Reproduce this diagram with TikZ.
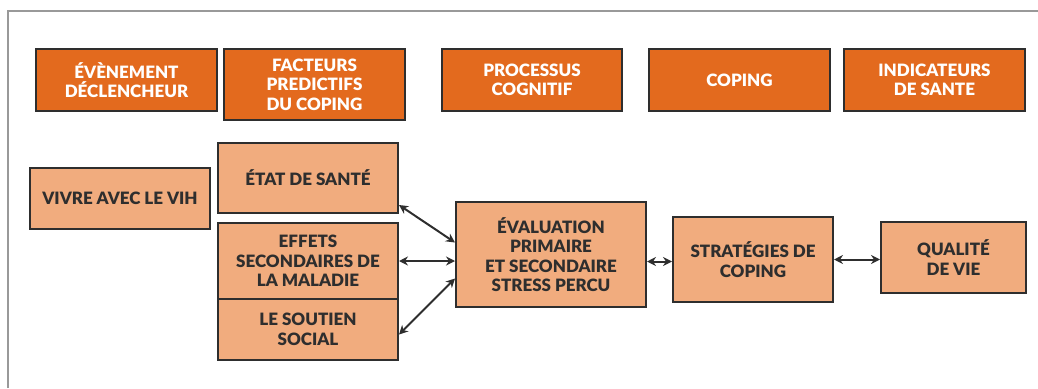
\documentclass[tikz,border=0pt]{standalone}
\usepackage{fontspec}
\setmainfont{Lato}[BoldFont={Lato Black}]
\usepackage{xcolor}
\usepackage{tikz}
\usetikzlibrary{positioning}
\usetikzlibrary{arrows.meta}

\definecolor{entete}{HTML}{E36A1E}
\definecolor{boite}{HTML}{F1AC7E}
\definecolor{trait}{HTML}{2E2E2E}

\begin{document}
\begin{tikzpicture}[x=1pt, y=-1pt,
        font=\bfseries\fontsize{17}{19.5}\selectfont]

                % Styles of the header row and of the boxes below it
                \tikzset{
                    titre/.style={draw=trait, line width=2pt, fill=entete,
                        text=white, align=center, inner sep=0pt,
                        minimum width=181pt, minimum height=62pt},
                    bloc/.style={draw=trait, line width=2pt, fill=boite,
                        text=trait, align=center, inner sep=0pt},
                    lien/.style={draw=trait, line width=2pt,
                        {Stealth[length=9pt,width=9pt]}-{Stealth[length=9pt,width=9pt]}}
                }

                \useasboundingbox (0,0) rectangle (1038,388);

                % Frame around the figure
                \draw[gray!80, line width=1.5pt] (8,388) -- (8,11) -- (1038,11);

                % Header row
                \begin{scope}
                    \node[titre] (H1) at (126.5, 80)
                    {ÉVÈNEMENT\\DÉCLENCHEUR};
                    \node[titre, minimum height=71pt] (H2) at (314.5, 84.5)
                    {FACTEURS\\PREDICTIFS\\DU COPING};
                    \node[titre, minimum width=180pt] (H3) at (532, 80)
                    {PROCESSUS\\COGNITIF};
                    \node[titre] (H4) at (739.5, 80)
                    {COPING};
                    \node[titre] (H5) at (934.5, 80)
                    {INDICATEURS\\DE SANTE};
                \end{scope}

                % Model boxes
                \begin{scope}
                    \node[bloc, minimum width=180pt, minimum height=61pt]
                    (VIH) at (120, 198.5) {VIVRE AVEC LE VIH};
                    \node[bloc, minimum width=180pt, minimum height=70pt]
                    (Etat) at (308, 178) {ÉTAT DE SANTÉ};
                    \node[bloc, minimum width=180pt, minimum height=76pt]
                    (Effets) at (308, 261) {EFFETS\\SECONDAIRES DE\\LA MALADIE};
                    \node[bloc, minimum width=180pt, minimum height=61pt]
                    (Soutien) at (308, 329.5) {LE SOUTIEN\\SOCIAL};
                    \node[bloc, minimum width=190pt, minimum height=105pt]
                    (Eval) at (551, 254.5)
                    {ÉVALUATION\\PRIMAIRE\\ET SECONDAIRE\\STRESS PERCU};
                    \node[bloc, minimum width=160pt, minimum height=85pt]
                    (Strat) at (753, 259.5) {STRATÉGIES DE\\COPING};
                    \node[bloc, minimum width=145pt, minimum height=71pt]
                    (Qualite) at (953.5, 257.5) {QUALITÉ\\DE VIE};
                \end{scope}

                \begin{scope}
                    \draw[lien] ([yshift=-27pt]Etat.east) -- ([yshift=12pt]Eval.west);
                    \draw[lien] (Effets.east) -- (Effets.east -| Eval.west);
                    \draw[lien] ([yshift=-5pt]Soutien.east) -- ([yshift=-24pt]Eval.west);
                    \draw[lien] ([yshift=-7pt]Eval.east) -- ([yshift=-7pt]Eval.east -| Strat.west);
                    \draw[lien] (Strat.east) -- (Strat.east -| Qualite.west);
                \end{scope}

\end{tikzpicture}
\end{document}
